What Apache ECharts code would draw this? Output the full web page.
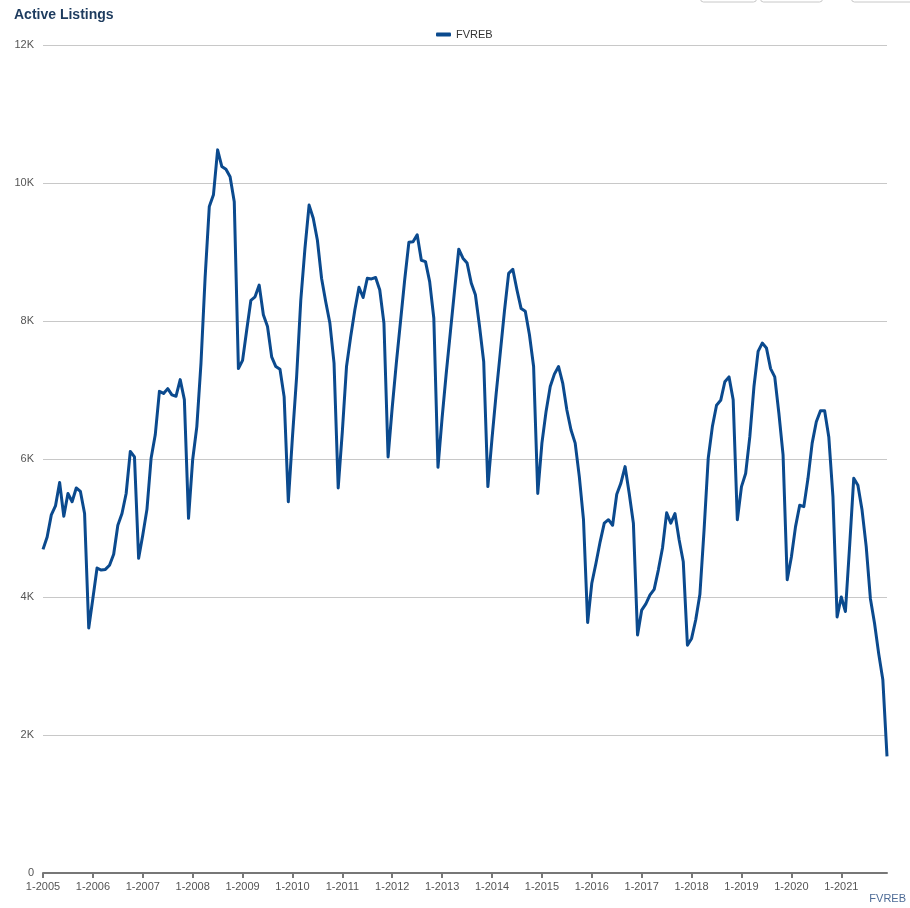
<!DOCTYPE html>
<html>
<head>
<meta charset="utf-8">
<title>Active Listings</title>
<script src="https://cdn.jsdelivr.net/npm/echarts/dist/echarts.min.js"></script>
<style>
    html, body { margin: 0; padding: 0; background: #fff; }
    #listings_chart { width: 910px; height: 908px; }
</style>
</head>
<body>
<div id="listings_chart"></div>
<script>
// years on the x axis, one point per month
var years = [2005, 2006, 2007, 2008, 2009, 2010, 2011, 2012, 2013, 2014, 2015, 2016, 2017, 2018, 2019, 2020, 2021];
var yTicks = [0, 2000, 4000, 6000, 8000, 10000, 12000];
var seriesName = 'FVREB';

// active listings per month, Jan 2005 .. Dec 2021
var fvreb = [
    4690, 4870, 5190, 5320, 5660, 5170, 5500, 5380, 5580, 5530, 5210, 3550,
    3980, 4420, 4390, 4400, 4460, 4620, 5040, 5210, 5500, 6110, 6030, 4560,
    4900, 5270, 6010, 6350, 6980, 6950, 7020, 6930, 6910, 7150, 6860, 5140,
    5990, 6470, 7390, 8640, 9660, 9830, 10480, 10240, 10200, 10090, 9730, 7310,
    7430, 7870, 8300, 8350, 8520, 8090, 7920, 7480, 7340, 7300, 6900, 5380,
    6320, 7190, 8300, 9050, 9680, 9490, 9170, 8620, 8280, 7970, 7390, 5580,
    6400, 7340, 7770, 8160, 8490, 8340, 8620, 8610, 8630, 8450, 7970, 6030,
    6750, 7400, 8000, 8600, 9140, 9150, 9250, 8880, 8860, 8570, 8040, 5880,
    6600, 7250, 7850, 8450, 9040, 8910, 8840, 8550, 8380, 7920, 7410, 5600,
    6300, 6950, 7550, 8150, 8690, 8750, 8450, 8180, 8140, 7800, 7340, 5500,
    6230, 6690, 7050, 7230, 7340, 7100, 6710, 6420, 6230, 5740, 5120, 3630,
    4200, 4490, 4800, 5070, 5120, 5040, 5490, 5650, 5890, 5500, 5070, 3450,
    3810, 3900, 4030, 4110, 4390, 4710, 5220, 5070, 5210, 4830, 4510, 3300,
    3400, 3670, 4040, 4970, 6010, 6470, 6780, 6850, 7120, 7190, 6860, 5120,
    5600, 5790, 6320, 7050, 7560, 7680, 7610, 7310, 7190, 6660, 6060, 4250,
    4580, 5020, 5330, 5310, 5720, 6230, 6540, 6700, 6700, 6320, 5450, 3710,
    4000, 3790, 4730, 5720, 5620, 5260, 4730, 3980, 3620, 3180, 2800, 1690
];

var months = [];
years.forEach(function (y) {
    for (var m = 1; m <= 12; m++) {
        months.push(m + '-' + y);
    }
});

var fontFamily = '"Liberation Sans", Arial, sans-serif';
var lineColor = '#0b4a8e';

var chart = echarts.init(document.getElementById('listings_chart'));
chart.setOption({
    animation: false,
    textStyle: { fontFamily: fontFamily },
    title: {
        text: 'Active Listings',
        left: 14,
        top: 8,
        padding: 0,
        textStyle: { fontSize: 14, fontWeight: 'bold', color: '#1d3b5e', fontFamily: fontFamily }
    },
    legend: {
        data: [seriesName],
        top: 29,
        left: 436,
        padding: 0,
        itemWidth: 15,
        itemHeight: 4,
        itemGap: 4,
        icon: 'roundRect',
        textStyle: { fontSize: 11, color: '#333', fontFamily: fontFamily }
    },
    grid: { left: 43, right: 23, top: 45, bottom: 35, containLabel: false },
    xAxis: {
        type: 'category',
        data: months,
        boundaryGap: false,
        axisLine: { lineStyle: { color: '#777', width: 2 } },
        axisTick: {
            length: 5,
            lineStyle: { color: '#777', width: 2 },
            interval: function (idx) { return idx % 12 === 0; }
        },
        axisLabel: {
            interval: function (idx) { return idx % 12 === 0; },
            color: '#555',
            fontSize: 11,
            margin: 8,
            fontFamily: fontFamily
        },
        splitLine: { show: false }
    },
    yAxis: {
        type: 'value',
        min: yTicks[0],
        max: yTicks[yTicks.length - 1],
        interval: 2000,
        axisLine: { show: false },
        axisTick: { show: false },
        axisLabel: {
            color: '#555',
            fontSize: 11,
            margin: 9,
            fontFamily: fontFamily,
            formatter: function (v) { return v === 0 ? '0' : (v / 1000) + 'K'; }
        },
        splitLine: { lineStyle: { color: '#c8c8c8', width: 1 } }
    },
    series: [{
        name: seriesName,
        type: 'line',
        data: fvreb,
        showSymbol: false,
        symbol: 'none',
        color: lineColor,
        lineStyle: { color: lineColor, width: 3, join: 'round' }
    }],
    graphic: [
        // toolbar buttons cut off at the top edge
        { type: 'rect', shape: { x: 700.5, y: -20, width: 56, height: 22, r: 3 }, style: { fill: '#fff', stroke: '#c8c8c8', lineWidth: 1 } },
        { type: 'rect', shape: { x: 760.5, y: -20, width: 62, height: 22, r: 3 }, style: { fill: '#fff', stroke: '#c8c8c8', lineWidth: 1 } },
        { type: 'rect', shape: { x: 851.5, y: -20, width: 62, height: 22, r: 3 }, style: { fill: '#fff', stroke: '#c8c8c8', lineWidth: 1 } },
        {
            type: 'text',
            right: 4,
            top: 893,
            style: { text: 'FVREB', fill: '#4d6b96', fontSize: 11, fontFamily: fontFamily }
        }
    ]
});
</script>
</body>
</html>
